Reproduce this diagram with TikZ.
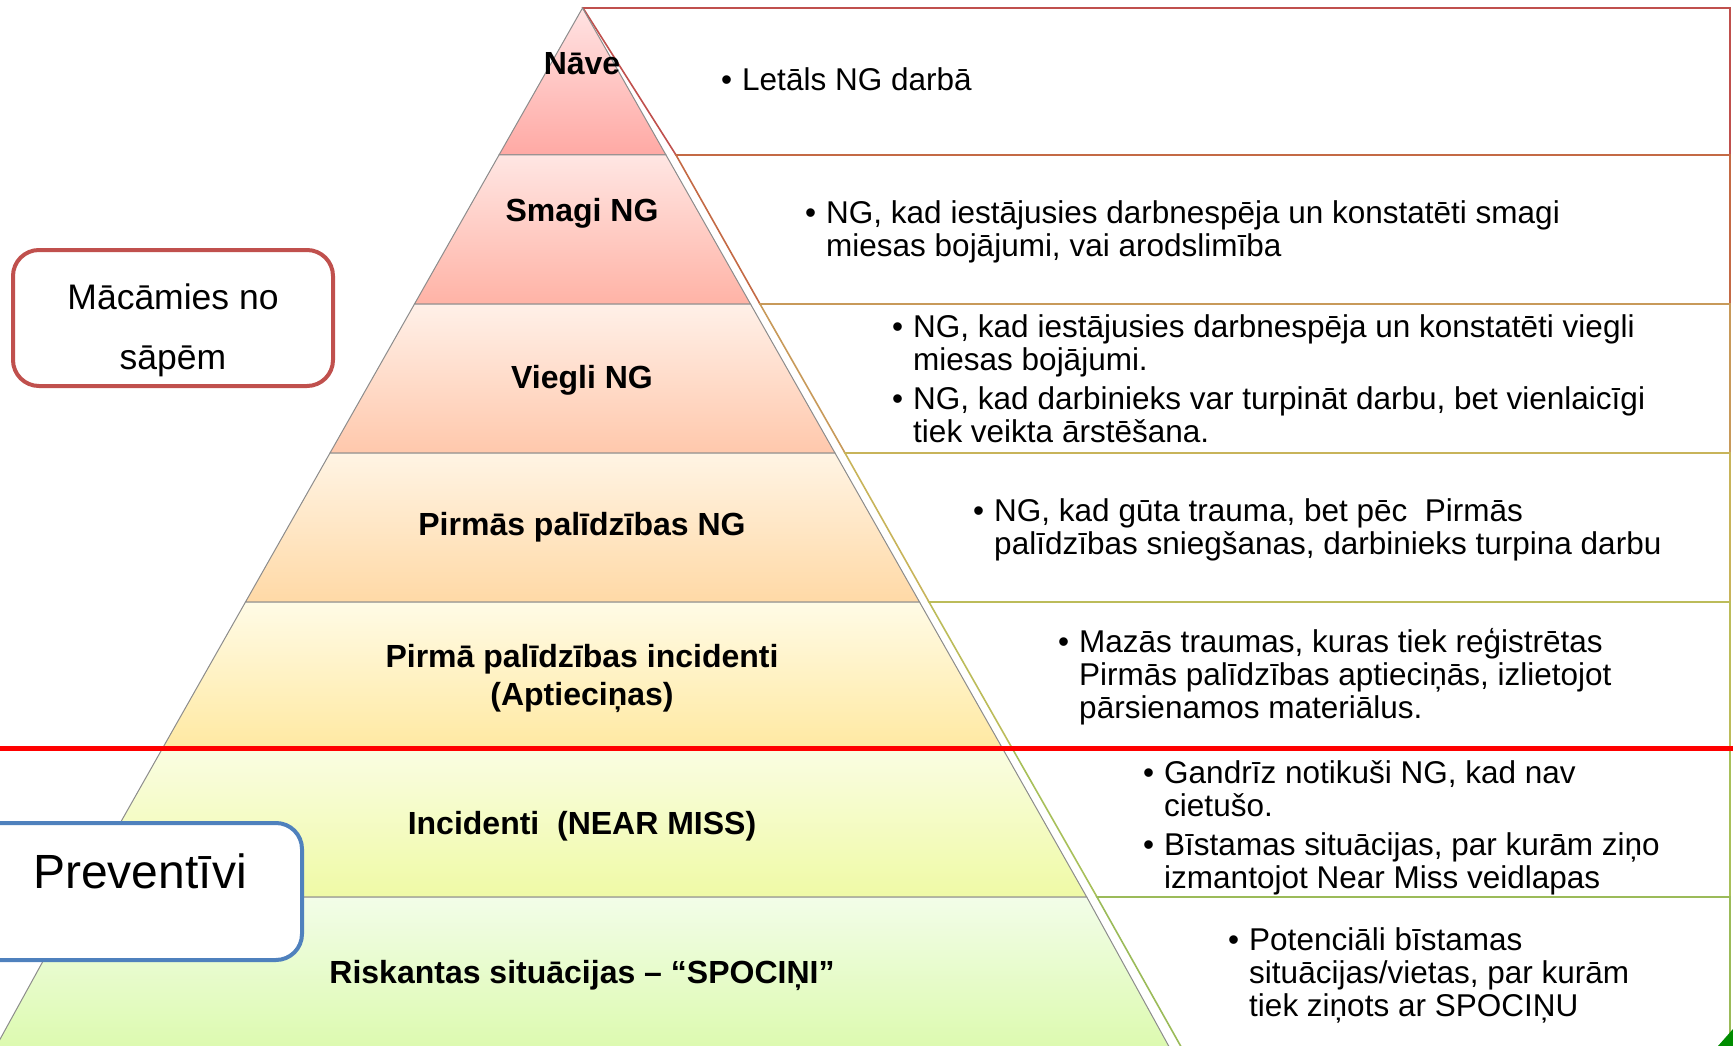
\documentclass[tikz,border=0pt]{standalone}
\usepackage{fontspec}
\setmainfont{Liberation Sans}

\definecolor{bx1}{HTML}{C0504D}
\definecolor{bx2}{HTML}{C46A45}
\definecolor{bx3}{HTML}{C89A5A}
\definecolor{bx4}{HTML}{C8B45A}
\definecolor{bx5}{HTML}{BCBC5A}
\definecolor{bx6}{HTML}{A8C05A}
\definecolor{bx7}{HTML}{9BBB59}
\definecolor{p1t}{HTML}{FFE3E3}\definecolor{p1b}{HTML}{FFA9A4}
\definecolor{p2t}{HTML}{FFE6E3}\definecolor{p2b}{HTML}{FFB3A6}
\definecolor{p3t}{HTML}{FFF0E8}\definecolor{p3b}{HTML}{FFC8AC}
\definecolor{p4t}{HTML}{FFF4E4}\definecolor{p4b}{HTML}{FFD9A6}
\definecolor{p5t}{HTML}{FFFBE6}\definecolor{p5b}{HTML}{FFE9A2}
\definecolor{p6t}{HTML}{FAFDE2}\definecolor{p6b}{HTML}{EFFAA6}
\definecolor{p7t}{HTML}{F2FDE8}\definecolor{p7b}{HTML}{DCFAAE}
\definecolor{redbox}{HTML}{C0504D}
\definecolor{bluebox}{HTML}{4F81BD}

\tikzset{
  band/.style={draw=gray!90, line width=1pt},
  listbox/.style={fill=white, line width=1.6pt},
  lvl/.style={font=\fontsize{32}{38}\selectfont\bfseries, align=center},
  txt/.style={font=\fontsize{31.5}{33}\selectfont, anchor=base west, inner sep=0pt},
  sidebox/.style={fill=white, line width=4pt, rounded corners=26pt},
}

\begin{document}
\begin{tikzpicture}[x=1pt,y=-1pt]
	\useasboundingbox (0,0) rectangle (1733,1046);
	% text boxes on the right
	\draw[listbox, draw=bx1](583,8) -- (1730,8) -- (1730,155) -- (676,155) -- cycle;
	\draw[listbox, draw=bx2](676,155) -- (1730,155) -- (1730,304) -- (760,304) -- cycle;
	\draw[listbox, draw=bx3](760,304) -- (1730,304) -- (1730,453) -- (845,453) -- cycle;
	\draw[listbox, draw=bx4](845,453) -- (1730,453) -- (1730,602) -- (929,602) -- cycle;
	\draw[listbox, draw=bx5](929,602) -- (1730,602) -- (1730,748) -- (1012,748) -- cycle;
	\draw[listbox, draw=bx6](1012,748) -- (1730,748) -- (1730,897) -- (1097,897) -- cycle;
	\draw[listbox, draw=bx7](1097,897) -- (1730,897) -- (1730,1052) -- (1184,1052) -- cycle;
	% pyramid
	\draw[band, top color=p1t, bottom color=p1b](582.5,8) -- (666,155) -- (499,155) -- cycle;
	\draw[band, top color=p2t, bottom color=p2b](499,155) -- (666,155) -- (750.5,304) -- (414.5,304) -- cycle;
	\draw[band, top color=p3t, bottom color=p3b](414.5,304) -- (750.5,304) -- (835,453) -- (330,453) -- cycle;
	\draw[band, top color=p4t, bottom color=p4b](330,453) -- (835,453) -- (919.5,602) -- (245.5,602) -- cycle;
	\draw[band, top color=p5t, bottom color=p5b](245.5,602) -- (919.5,602) -- (1002.3,748) -- (162.7,748) -- cycle;
	\draw[band, top color=p6t, bottom color=p6b](162.7,748) -- (1002.3,748) -- (1086.7,897) -- (78.3,897) -- cycle;
	\draw[band, top color=p7t, bottom color=p7b](78.3,897) -- (1086.7,897) -- (1172,1052) -- (-7,1052) -- cycle;
	% level names
	\node[lvl] (nave) at (582,64) {Nāve};
	\node[lvl] (smagi) at (582,213) {Smagi NG};
	\node[lvl] (viegli) at (582,380) {Viegli NG};
	\node[lvl] (pirmas) at (582,527) {Pirmās palīdzības NG};
	\node[lvl] (aptiec) at (582,678) {Pirmā palīdzības incidenti\\(Aptieciņas)};
	\node[lvl] (nearmiss) at (582,826) {Incidenti\ \ (NEAR MISS)};
	\node[lvl] (spocini) at (582,975) {Riskantas situācijas – “SPOCIŅI”};
	% descriptions
	\node[txt] (d1) at (721,91) {\begin{tabular}[t]{@{}l@{\hspace{10pt}}l@{}}
		• & Letāls NG darbā\end{tabular}};
	\node[txt] (d2) at (805,223) {\begin{tabular}[t]{@{}l@{\hspace{10pt}}l@{}}
		• & NG, kad iestājusies darbnespēja un konstatēti smagi\\
		& miesas bojājumi, vai arodslimība\end{tabular}};
	\node[txt] (d3) at (892,337) {\begin{tabular}[t]{@{}l@{\hspace{10pt}}l@{}}
		• & NG, kad iestājusies darbnespēja un konstatēti viegli\\
		& miesas bojājumi.\\[6pt]
		• & NG, kad darbinieks var turpināt darbu, bet vienlaicīgi\\
		& tiek veikta ārstēšana.\end{tabular}};
	\node[txt] (d4) at (973,521) {\begin{tabular}[t]{@{}l@{\hspace{10pt}}l@{}}
		• & NG, kad gūta trauma, bet pēc\ \ Pirmās\\
		& palīdzības sniegšanas, darbinieks turpina darbu\end{tabular}};
	\node[txt] (d5) at (1058,652) {\begin{tabular}[t]{@{}l@{\hspace{10pt}}l@{}}
		• & Mazās traumas, kuras tiek reģistrētas\\
		& Pirmās palīdzības aptieciņās, izlietojot\\
		& pārsienamos materiālus.\end{tabular}};
	\node[txt] (d6) at (1143,783) {\begin{tabular}[t]{@{}l@{\hspace{10pt}}l@{}}
		• & Gandrīz notikuši NG, kad nav\\
		& cietušo.\\[6pt]
		• & Bīstamas situācijas, par kurām ziņo\\
		& izmantojot Near Miss veidlapas\end{tabular}};
	\node[txt] (d7) at (1228,950) {\begin{tabular}[t]{@{}l@{\hspace{10pt}}l@{}}
		• & Potenciāli bīstamas\\
		& situācijas/vietas, par kurām\\
		& tiek ziņots ar SPOCIŅU\end{tabular}};
	% red divider
	\draw[red, line width=5pt](0,748) -- (1733,748);
	% side boxes
	\draw[sidebox, draw=redbox](13,250) rectangle (333,386);
	\node[font=\fontsize{35.5}{60}\selectfont, align=center] (sapes) at (173,330) {Mācāmies no\\sāpēm};
	\draw[sidebox, draw=bluebox](-30,823) rectangle (302,960);
	\node[font=\fontsize{48}{50}\selectfont] (prev) at (140,871) {Preventīvi};
	% corner mark
	\fill[green!55!black](1718,1046) -- (1733,1029) -- (1733,1046) -- cycle;
\end{tikzpicture}
\end{document}
